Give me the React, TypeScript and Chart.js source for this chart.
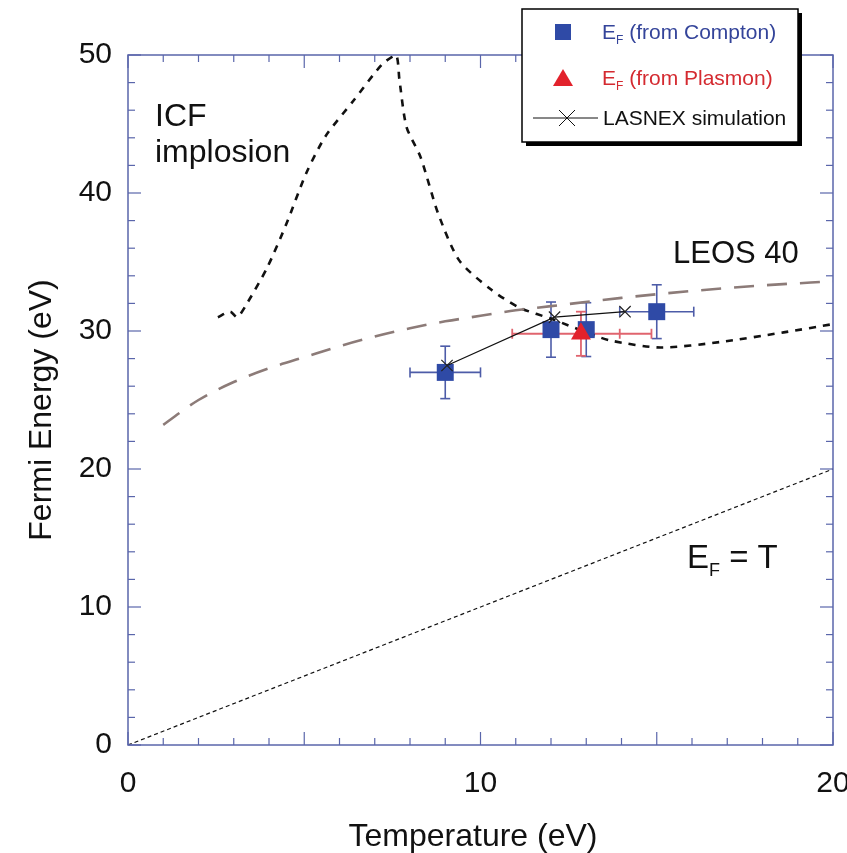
import React, { useEffect, useRef } from 'react';
import { Chart, registerables } from 'chart.js';

Chart.register(...registerables);

// ---- Data ----
const comptonT = [9, 12, 13, 15];
const comptonEF = [27.0, 30.1, 30.1, 31.4];
const comptonTErr = [1.0, 0, 0, 1.05];
const comptonEFErr = [1.9, 2.0, 1.95, 1.95];

const plasmonT = [12.85];
const plasmonEF = [29.8];
const plasmonTErrLow = [1.95];
const plasmonTErrHigh = [2.0];
const plasmonTCap = [13.95];
const plasmonEFErr = [1.6];

const lasnexT = [9.05, 12.1, 14.1];
const lasnexEF = [27.5, 31.0, 31.4];

const leosT = [1, 2, 3, 4, 5, 6, 7, 8, 9, 10, 11, 12, 14, 16, 18, 20];
const leosEF = [23.2, 25.0, 26.3, 27.3, 28.1, 28.9, 29.6, 30.2, 30.7, 31.1, 31.5, 31.8, 32.4, 32.9, 33.3, 33.6];

const icfT = [2.55, 2.9, 3.1, 3.4, 3.95, 4.5, 5.05, 5.6, 6.4, 7.2, 7.6, 7.7, 7.9, 8.3, 8.8, 9.4, 10.3, 11.1, 12.1, 13.1, 13.7, 15.1, 16.8, 18.6, 20];
const icfEF = [31.0, 31.4, 31.0, 32.1, 34.6, 37.8, 41.4, 44.1, 46.7, 49.3, 50.0, 48.2, 44.8, 42.6, 38.5, 35.1, 33.0, 31.7, 30.8, 29.8, 29.3, 28.8, 29.2, 29.9, 30.5];

const eqT = [0, 20];
const eqEF = [0, 20];

const xMin = 0, xMax = 20, xLabelStep = 10, xMinorStep = 1, xMajorStep = 5;
const yMin = 0, yMax = 50, yLabelStep = 10, yMinorStep = 2, yMajorStep = 10;

const xTitle = 'Temperature (eV)';
const yTitle = 'Fermi Energy (eV)';
const legendLabels = ['(from Compton)', '(from Plasmon)', 'LASNEX simulation'];

// ---- Styles ----
const FONT = "'Liberation Sans', Arial, Helvetica, sans-serif";
const AXIS = '#5a66ab';
const BLUE = '#2f4aa6';
const BLUE_ERR = '#4d5ca8';
const RED = '#e2222c';
const RED_ERR = '#e0646e';
const LEOS = '#8c7b78';

const pts = (xs: number[], ys: number[]) => xs.map((x, i) => ({ x, y: ys[i] }));

function drawSubE(ctx: CanvasRenderingContext2D, x: number, y: number, size: number, subSize: number, rest: string, color: string) {
  ctx.fillStyle = color;
  ctx.textBaseline = 'alphabetic';
  ctx.textAlign = 'left';
  ctx.font = `${size}px ${FONT}`;
  ctx.fillText('E', x, y);
  let cx = x + ctx.measureText('E').width;
  ctx.font = `${subSize}px ${FONT}`;
  ctx.fillText('F', cx, y + subSize * 0.45);
  cx += ctx.measureText('F').width;
  ctx.font = `${size}px ${FONT}`;
  ctx.fillText(rest, cx, y);
}

const decorPlugin = {
  id: 'decor',
  beforeDatasetsDraw(chart: any) {
    const { ctx, scales } = chart;
    const xs = scales.x, ys = scales.y;
    ctx.save();
    const bar = (x1: number, y1: number, x2: number, y2: number) => {
      ctx.beginPath(); ctx.moveTo(x1, y1); ctx.lineTo(x2, y2); ctx.stroke();
    };
    const cap = 5;
    // Compton error bars
    ctx.strokeStyle = BLUE_ERR; ctx.lineWidth = 1.6;
    comptonT.forEach((t, i) => {
      const px = xs.getPixelForValue(t), py = ys.getPixelForValue(comptonEF[i]);
      const yt = ys.getPixelForValue(comptonEF[i] + comptonEFErr[i]);
      const yb = ys.getPixelForValue(comptonEF[i] - comptonEFErr[i]);
      bar(px, yt, px, yb); bar(px - cap, yt, px + cap, yt); bar(px - cap, yb, px + cap, yb);
      if (comptonTErr[i] > 0) {
        const xl = xs.getPixelForValue(t - comptonTErr[i]);
        const xr = xs.getPixelForValue(t + comptonTErr[i]);
        bar(xl, py, xr, py); bar(xl, py - cap, xl, py + cap); bar(xr, py - cap, xr, py + cap);
      }
    });
    // Plasmon error bars
    ctx.strokeStyle = RED_ERR; ctx.lineWidth = 1.8;
    plasmonT.forEach((t, i) => {
      const px = xs.getPixelForValue(t), py = ys.getPixelForValue(plasmonEF[i]);
      const yt = ys.getPixelForValue(plasmonEF[i] + plasmonEFErr[i]);
      const yb = ys.getPixelForValue(plasmonEF[i] - plasmonEFErr[i]);
      bar(px, yt, px, yb); bar(px - cap, yt, px + cap, yt); bar(px - cap, yb, px + cap, yb);
      const xl = xs.getPixelForValue(t - plasmonTErrLow[i]);
      const xr = xs.getPixelForValue(t + plasmonTErrHigh[i]);
      const xm = xs.getPixelForValue(plasmonTCap[i]);
      bar(xl, py, xr, py); bar(xl, py - cap, xl, py + cap); bar(xr, py - cap, xr, py + cap);
      bar(xm, py - cap, xm, py + cap);
    });
    ctx.restore();
  },
  afterDraw(chart: any) {
    const { ctx, chartArea: a, scales } = chart;
    const xs = scales.x, ys = scales.y;
    ctx.save();
    // frame
    ctx.strokeStyle = AXIS; ctx.lineWidth = 1.5;
    ctx.strokeRect(a.left, a.top, a.right - a.left, a.bottom - a.top);
    ctx.lineWidth = 1.2;
    const line = (x1: number, y1: number, x2: number, y2: number) => {
      ctx.beginPath(); ctx.moveTo(x1, y1); ctx.lineTo(x2, y2); ctx.stroke();
    };
    for (let v = xMin; v <= xMax + 1e-9; v += xMinorStep) {
      const px = xs.getPixelForValue(v);
      const len = Math.abs(v % xMajorStep) < 1e-9 ? 13 : 7;
      line(px, a.bottom, px, a.bottom - len);
      line(px, a.top, px, a.top + len);
    }
    for (let v = yMin; v <= yMax + 1e-9; v += yMinorStep) {
      const py = ys.getPixelForValue(v);
      const len = Math.abs(v % yMajorStep) < 1e-9 ? 13 : 7;
      line(a.left, py, a.left + len, py);
      line(a.right, py, a.right - len, py);
    }
    // axis titles
    ctx.fillStyle = '#111';
    ctx.font = `32px ${FONT}`;
    ctx.textAlign = 'center';
    ctx.textBaseline = 'alphabetic';
    ctx.fillText(xTitle, 473, 846);
    ctx.save();
    ctx.translate(51, 410);
    ctx.rotate(-Math.PI / 2);
    ctx.fillText(yTitle, 0, 0);
    ctx.restore();

    // annotations
    ctx.textAlign = 'left';
    ctx.font = `32px ${FONT}`;
    ctx.fillText('ICF', 155, 126);
    ctx.fillText('implosion', 155, 162);
    ctx.font = `31px ${FONT}`;
    ctx.fillText('LEOS 40', 673, 263);
    drawSubE(ctx, 687, 568, 33, 18, ' = T', '#111');

    // legend
    const bx = 522, by = 9, bw = 276, bh = 133;
    ctx.fillStyle = '#000';
    ctx.fillRect(bx + 4, by + 4, bw, bh);
    ctx.fillStyle = '#fff';
    ctx.fillRect(bx, by, bw, bh);
    ctx.strokeStyle = '#000'; ctx.lineWidth = 1.5;
    ctx.strokeRect(bx, by, bw, bh);
    // row 1: square
    ctx.fillStyle = BLUE;
    ctx.fillRect(563 - 8, 32 - 8, 16, 16);
    drawSubE(ctx, 602, 39, 21, 12, ' ' + legendLabels[0], '#34449a');
    // row 2: triangle
    ctx.fillStyle = RED;
    ctx.beginPath();
    ctx.moveTo(563, 69); ctx.lineTo(573, 86); ctx.lineTo(553, 86); ctx.closePath(); ctx.fill();
    drawSubE(ctx, 602, 85, 21, 12, ' ' + legendLabels[1], '#d42a30');
    // row 3: line with X
    ctx.strokeStyle = '#111'; ctx.lineWidth = 1;
    line(533, 118, 598, 118);
    line(559, 110, 575, 126); line(559, 126, 575, 110);
    ctx.fillStyle = '#111';
    ctx.font = `21px ${FONT}`;
    ctx.textAlign = 'left';
    ctx.fillText(legendLabels[2], 603, 125);
    ctx.restore();
  },
};

export default function App() {
  const ref = useRef<HTMLCanvasElement | null>(null);
  useEffect(() => {
    if (!ref.current) return;
    const chart = new Chart(ref.current, {
      type: 'scatter',
      data: {
        datasets: [
          {
            label: 'Plasmon', data: pts(plasmonT, plasmonEF), showLine: false,
            pointStyle: 'triangle', pointRadius: 11.5, backgroundColor: RED, borderColor: RED, pointBorderWidth: 0,
          },
          {
            label: 'LASNEX', data: pts(lasnexT, lasnexEF), showLine: true,
            borderColor: '#111', borderWidth: 1.2, pointStyle: 'crossRot', pointRadius: 8,
            pointBorderColor: '#222', pointBorderWidth: 1.2, backgroundColor: '#111',
          },
          {
            label: 'Compton', data: pts(comptonT, comptonEF), showLine: false,
            pointStyle: 'rect', pointRadius: 12, backgroundColor: BLUE, borderColor: BLUE, pointBorderWidth: 0,
          },
          {
            label: 'LEOS 40', data: pts(leosT, leosEF), showLine: true, pointRadius: 0,
            borderColor: LEOS, borderWidth: 2.6, borderDash: [20, 13], cubicInterpolationMode: 'monotone',
          },
          {
            label: 'ICF', data: pts(icfT, icfEF), showLine: true, pointRadius: 0,
            borderColor: '#111', borderWidth: 2.6, borderDash: [7, 7], tension: 0.25,
          },
          {
            label: 'EF=T', data: pts(eqT, eqEF), showLine: true, pointRadius: 0,
            borderColor: '#111', borderWidth: 1.2, borderDash: [4, 3],
          },
        ],
      },
      options: {
        responsive: false,
        animation: false,
        events: [],
        layout: { padding: { top: 55, right: 14, left: 0, bottom: 0 } },
        plugins: { legend: { display: false }, tooltip: { enabled: false } },
        scales: {
          x: {
            type: 'linear', min: xMin, max: xMax,
            ticks: { stepSize: xLabelStep, color: '#111', font: { size: 30, family: FONT }, padding: 21, maxRotation: 0 },
            grid: { display: false, drawTicks: false },
            border: { display: false },
            afterFit: (s: any) => { s.height = 108; s.paddingLeft = 0; s.paddingRight = 0; },
          },
          y: {
            type: 'linear', min: yMin, max: yMax,
            ticks: { stepSize: yLabelStep, color: '#111', font: { size: 30, family: FONT }, padding: 16 },
            grid: { display: false, drawTicks: false },
            border: { display: false },
            afterFit: (s: any) => { s.width = 128; s.paddingTop = 0; s.paddingBottom = 0; },
          },
        },
      },
      plugins: [decorPlugin],
    } as any);
    return () => chart.destroy();
  }, []);
  return (
    <div style={{ position: 'absolute', left: 0, top: 0, width: 847, height: 853, background: '#fff' }}>
      <canvas ref={ref} width={847} height={853} style={{ display: 'block' }} />
    </div>
  );
}
